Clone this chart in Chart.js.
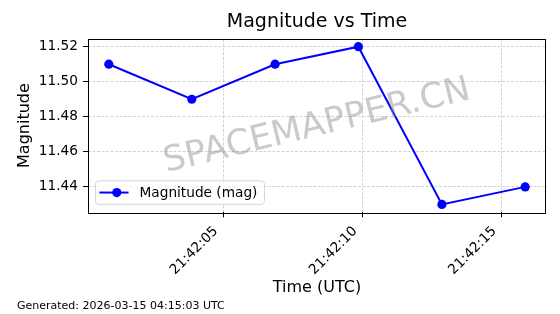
<!DOCTYPE html>
<html>
<head>
<meta charset="utf-8">
<script src="https://cdn.jsdelivr.net/npm/chart.js@4.4.0/dist/chart.umd.min.js"></script>
<style>
  body { margin: 0; background: #fff; }
  #wrap { width: 560px; height: 314px; position: relative; }
</style>
</head>
<body>
<div id="wrap"><canvas id="mag-chart"></canvas></div>
<script>
// datos
const timeLabels = ['21:42:00.90', '21:42:03.88', '21:42:06.87', '21:42:09.86', '21:42:12.86', '21:42:15.85']
const magnitudes = [11.51, 11.49, 11.51, 11.52, 11.43, 11.44]
const xTickLabels = ['21:42:05', '21:42:10', '21:42:15']
const yTickValues = [11.44, 11.46, 11.48, 11.50, 11.52]
const seriesLabel = 'Magnitude (mag)'
const footerText = 'Generated: 2026-03-15 04:15:03 UTC'
const watermarkText = 'SPACEMAPPER.CN'

const FONT = "'DejaVu Sans', sans-serif"

//! pasa hh:mm:ss a segundos
function toSec(str){
    const [h, m, s] = str.split(':').map(Number)
    return h * 3600 + m * 60 + s
}
function fmtTime(sec){
    const h = Math.floor(sec / 3600)
    const m = Math.floor((sec % 3600) / 60)
    const s = Math.round(sec % 60)
    return [h, m, s].map(v => String(v).padStart(2, '0')).join(':')
}

const points = timeLabels.map((t, i) => ({ x: toSec(t), y: magnitudes[i] }))
const xs = points.map(p => p.x)
const xMin = Math.min(...xs), xMax = Math.max(...xs)
const yMin = Math.min(...magnitudes), yMax = Math.max(...magnitudes)
const xPad = (xMax - xMin) * 0.05
const yPad = (yMax - yMin) * 0.05

//! marco, marca de agua, leyenda y pie
const extras = {
    id: 'extras',
    afterDatasetsDraw(chart){
        const { ctx, chartArea: ca } = chart
        ctx.save()
        // marca de agua
        ctx.translate((ca.left + ca.right) / 2, (ca.top + ca.bottom) / 2 + 1)
        ctx.rotate(-13.5 * Math.PI / 180)
        ctx.font = `35px ${FONT}`
        ctx.fillStyle = 'rgba(128,128,128,0.42)'
        ctx.textAlign = 'center'
        ctx.textBaseline = 'middle'
        ctx.fillText(watermarkText, 0, 0)
        ctx.restore()

        // leyenda
        ctx.save()
        ctx.font = `13.7px ${FONT}`
        const tw = ctx.measureText(seriesLabel).width
        const bx = ca.left + 7.5, by = ca.bottom - 31.5, bw = 44 + tw + 7, bh = 23.5
        ctx.beginPath()
        ctx.roundRect(bx, by, bw, bh, 3)
        ctx.fillStyle = 'rgba(255,255,255,0.8)'
        ctx.fill()
        ctx.strokeStyle = '#d6d6d6'
        ctx.lineWidth = 1
        ctx.stroke()
        const my = by + bh / 2
        ctx.beginPath()
        ctx.moveTo(bx + 4, my)
        ctx.lineTo(bx + 33, my)
        ctx.strokeStyle = '#0000ff'
        ctx.lineWidth = 2
        ctx.stroke()
        ctx.beginPath()
        ctx.arc(bx + 21.3, my, 4.6, 0, Math.PI * 2)
        ctx.fillStyle = '#0000ff'
        ctx.fill()
        ctx.fillStyle = '#000'
        ctx.textBaseline = 'middle'
        ctx.fillText(seriesLabel, bx + 44, my + 0.5)
        ctx.restore()

        // marco
        ctx.save()
        ctx.strokeStyle = '#000'
        ctx.lineWidth = 1
        ctx.strokeRect(Math.round(ca.left) + 0.5, Math.round(ca.top) + 0.5,
            Math.round(ca.right - ca.left) - 1, Math.round(ca.bottom - ca.top))
        ctx.restore()

        // pie
        ctx.save()
        ctx.font = `11px ${FONT}`
        ctx.fillStyle = '#000'
        ctx.textBaseline = 'alphabetic'
        ctx.fillText(footerText, 17, 308.5)
        ctx.restore()
    }
}

const gridOpts = {
    color: 'rgba(176,176,176,0.7)',
    lineWidth: 0.8,
    drawTicks: true,
    tickLength: 5,
    tickColor: '#000',
    tickWidth: 1,
    tickBorderDash: []
}
const borderOpts = { display: false, dash: [3, 1.5] }

const magChart = new Chart(document.getElementById('mag-chart'), {
    type: 'line',
    data: {
        datasets: [{
            label: seriesLabel,
            data: points,
            borderColor: '#0000ff',
            backgroundColor: '#0000ff',
            borderWidth: 2,
            pointRadius: 4.6,
            pointHoverRadius: 4.6,
            pointBorderWidth: 0,
            tension: 0
        }]
    },
    options: {
        responsive: true,
        maintainAspectRatio: false,
        animation: false,
        layout: { padding: { left: 0, right: 14, top: 0, bottom: 0 } },
        plugins: {
            legend: { display: false },
            tooltip: { enabled: false },
            title: {
                display: true,
                fullSize: false,
                text: 'Magnitude vs Time',
                color: '#000',
                font: { family: FONT, size: 19, weight: 'normal' },
                padding: { top: 11, bottom: 5 }
            }
        },
        scales: {
            x: {
                type: 'linear',
                min: xMin - xPad,
                max: xMax + xPad,
                afterBuildTicks(axis){
                    axis.ticks = xTickLabels.map(t => ({ value: toSec(t) }))
                },
                afterFit(scale){ scale.height = 101.7 },
                ticks: {
                    callback: v => fmtTime(v),
                    color: '#000',
                    font: { family: FONT, size: 13.7 },
                    minRotation: 45,
                    maxRotation: 45,
                    padding: 6,
                    labelOffset: -7
                },
                grid: gridOpts,
                border: borderOpts,
                title: {
                    display: true,
                    text: 'Time (UTC)',
                    color: '#000',
                    font: { family: FONT, size: 16 },
                    padding: { top: 0, bottom: 16.4 }
                }
            },
            y: {
                type: 'linear',
                min: yMin - yPad,
                max: yMax + yPad,
                afterBuildTicks(axis){
                    axis.ticks = yTickValues.map(v => ({ value: v }))
                },
                afterFit(scale){ scale.width = 88 },
                ticks: {
                    callback: v => v.toFixed(2),
                    color: '#000',
                    font: { family: FONT, size: 13.7 },
                    padding: 5
                },
                grid: gridOpts,
                border: borderOpts,
                title: {
                    display: true,
                    text: 'Magnitude',
                    color: '#000',
                    font: { family: FONT, size: 16 },
                    padding: { top: 15.4, bottom: 0 }
                }
            }
        }
    },
    plugins: [extras]
})
</script>
</body>
</html>
